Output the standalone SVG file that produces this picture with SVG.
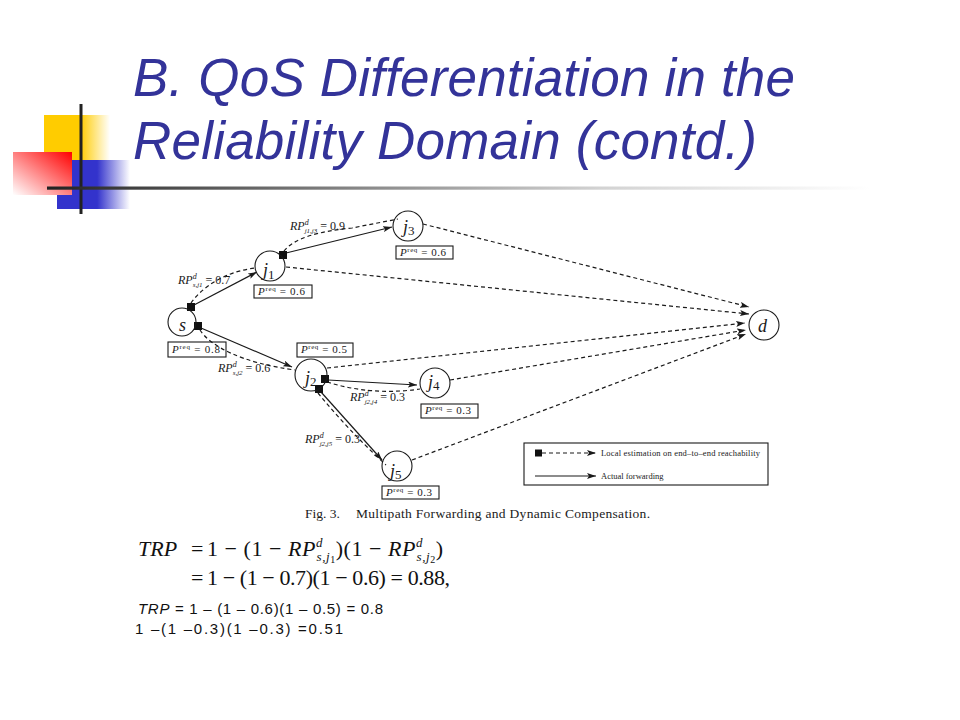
<svg xmlns="http://www.w3.org/2000/svg" width="960" height="720" viewBox="0 0 960 720">
<defs>
<style>
.title{font-family:"Liberation Sans",Arial,sans-serif;font-style:italic;font-size:53px;fill:#333399}
.fig{font-family:"Liberation Serif","Times New Roman",serif;fill:#1a1a1a}
.it{font-style:italic}
.node{fill:none;stroke:#1a1a1a;stroke-width:1.1}
.sq{fill:#111}
.solid{fill:none;stroke:#1a1a1a;stroke-width:1.2}
.dash{fill:none;stroke:#1a1a1a;stroke-width:1.2;stroke-dasharray:4 3}
.box{fill:none;stroke:#1a1a1a;stroke-width:1.1}
.nl{font-family:"Liberation Serif","Times New Roman",serif;font-style:italic;font-size:18px;fill:#1a1a1a}
.preq{font-family:"Liberation Serif","Times New Roman",serif;font-size:11px;fill:#1a1a1a}
.rp{font-family:"Liberation Serif","Times New Roman",serif;font-size:12px;fill:#1a1a1a}
.eq{font-family:"Liberation Serif","Times New Roman",serif;font-size:22px;fill:#111}
.sans{font-family:"Liberation Sans",Arial,sans-serif;font-size:15px;fill:#111}
</style>
<marker id="ah" markerUnits="userSpaceOnUse" markerWidth="10" markerHeight="6" refX="9" refY="3" orient="auto">
<path d="M0,0 L9,3 L0,6 L2,3 z" fill="#1a1a1a"/>
</marker>
<linearGradient id="gY" x1="0" y1="0" x2="1" y2="0">
<stop offset="0" stop-color="#FFCC00"/><stop offset="0.55" stop-color="#FFCC00"/><stop offset="1" stop-color="#FFCC00" stop-opacity="0"/>
</linearGradient>
<linearGradient id="gB" x1="0" y1="0" x2="1" y2="0">
<stop offset="0" stop-color="#3333CC"/><stop offset="0.55" stop-color="#3333CC"/><stop offset="1" stop-color="#3333CC" stop-opacity="0"/>
</linearGradient>
<linearGradient id="gR" x1="1" y1="0" x2="0" y2="1">
<stop offset="0" stop-color="#FF0000"/><stop offset="0.5" stop-color="#FF8080"/><stop offset="1" stop-color="#FFFFFF"/>
</linearGradient>
<linearGradient id="gL" gradientUnits="userSpaceOnUse" x1="47" y1="0" x2="870" y2="0">
<stop offset="0" stop-color="#222"/><stop offset="0.12" stop-color="#444"/><stop offset="0.67" stop-color="#d2d2d2"/><stop offset="1" stop-color="#fff"/>
</linearGradient>
</defs>
<rect width="960" height="720" fill="#fff"/>

<g id="decoration">
<rect x="44" y="115" width="66" height="45" fill="url(#gY)"/>
<rect x="57" y="160" width="73" height="49" fill="url(#gB)"/>
<rect x="13" y="152" width="59" height="43" fill="url(#gR)"/>
<rect x="79.5" y="104" width="3" height="110" fill="#222"/>
<rect x="47" y="186.5" width="823" height="3.2" fill="url(#gL)"/>
</g>

<g id="title">
<text class="title" x="133" y="96" textLength="662" lengthAdjust="spacing">B. QoS Differentiation in the</text>
<text class="title" x="133" y="159" textLength="624" lengthAdjust="spacing">Reliability Domain (contd.)</text>
</g>

<g id="connectors">
<path class="solid" d="M194,305 L257,272" marker-end="url(#ah)"/>
<path class="solid" d="M286,253 L392,227" marker-end="url(#ah)"/>
<path class="solid" d="M201,328 L292,367" marker-end="url(#ah)"/>
<path class="solid" d="M328,380 L417,385" marker-end="url(#ah)"/>
<path class="solid" d="M321,392 L382,460" marker-end="url(#ah)"/>
<path class="dash" d="M191,303 C202,287 226,271 256,268"/>
<path class="dash" d="M284,251 C294,238 320,231 352,228 L398,219"/>
<path class="dash" d="M200,330 C210,346 242,363 295,370"/>
<path class="dash" d="M327,382 Q372,396 420,389"/>
<path class="dash" d="M318,393 Q348,430 386,465"/>
<path class="dash" d="M423,224 L749,307" marker-end="url(#ah)"/>
<path class="dash" d="M286,267 L749,314" marker-end="url(#ah)"/>
<path class="dash" d="M327,368 L745,323" marker-end="url(#ah)"/>
<path class="dash" d="M450,380 L746,330" marker-end="url(#ah)"/>
<path class="dash" d="M412,460 L746,334" marker-end="url(#ah)"/>
<rect class="sq" x="187" y="303" width="8" height="8"/>
<rect class="sq" x="194" y="322" width="8" height="8"/>
<rect class="sq" x="279" y="251" width="8" height="8"/>
<rect class="sq" x="321" y="375" width="8" height="8"/>
<rect class="sq" x="315" y="385" width="8" height="8"/>
</g>

<g id="node-s">
<circle class="node" cx="182" cy="322" r="14"/>
<text class="nl" x="179" y="331">s</text>
<rect class="box" x="168" y="342" width="58" height="15"/>
<text class="preq" x="172" y="353" textLength="48" lengthAdjust="spacing"><tspan class="it">P</tspan><tspan font-size="7" dy="-4">req</tspan><tspan dy="4"> = 0.8</tspan></text>
</g>

<g id="node-j1">
<circle class="node" cx="270" cy="266" r="15"/>
<text class="nl" x="263" y="276">j<tspan font-size="13" font-style="normal" dy="3">1</tspan></text>
<rect class="box" x="254" y="285" width="58" height="13"/>
<text class="preq" x="258" y="295" textLength="47" lengthAdjust="spacing"><tspan class="it">P</tspan><tspan font-size="7" dy="-4">req</tspan><tspan dy="4"> = 0.6</tspan></text>
</g>

<g id="node-j3">
<circle class="node" cx="408" cy="226" r="15"/>
<text class="nl" x="403" y="233">j<tspan font-size="13" font-style="normal" dy="2">3</tspan></text>
<rect class="box" x="396" y="246" width="57" height="13"/>
<text class="preq" x="400" y="256" textLength="46" lengthAdjust="spacing"><tspan class="it">P</tspan><tspan font-size="7" dy="-4">req</tspan><tspan dy="4"> = 0.6</tspan></text>
</g>

<g id="node-j2">
<circle class="node" cx="311" cy="375" r="16"/>
<text class="nl" x="305" y="384">j<tspan font-size="13" font-style="normal" dy="2">2</tspan></text>
<rect class="box" x="297" y="343" width="56" height="14"/>
<text class="preq" x="301" y="353" textLength="46" lengthAdjust="spacing"><tspan class="it">P</tspan><tspan font-size="7" dy="-4">req</tspan><tspan dy="4"> = 0.5</tspan></text>
</g>

<g id="node-j4">
<circle class="node" cx="435" cy="383" r="15"/>
<text class="nl" x="428" y="388">j<tspan font-size="13" font-style="normal" dy="2">4</tspan></text>
<rect class="box" x="421" y="404" width="57" height="14"/>
<text class="preq" x="425" y="414" textLength="46" lengthAdjust="spacing"><tspan class="it">P</tspan><tspan font-size="7" dy="-4">req</tspan><tspan dy="4"> = 0.3</tspan></text>
</g>

<g id="node-j5">
<circle class="node" cx="397" cy="466" r="15"/>
<text class="nl" x="390" y="477">j<tspan font-size="13" font-style="normal" dy="2">5</tspan></text>
<rect class="box" x="382" y="486" width="57" height="13"/>
<text class="preq" x="386" y="496" textLength="46" lengthAdjust="spacing"><tspan class="it">P</tspan><tspan font-size="7" dy="-4">req</tspan><tspan dy="4"> = 0.3</tspan></text>
</g>

<g id="node-d">
<circle class="node" cx="764" cy="325" r="15"/>
<text class="nl" x="758" y="332">d</text>
</g>

<g id="edge-labels">
<text class="rp" x="290" y="230"><tspan class="it">RP</tspan><tspan class="it" font-size="8" dy="-5">d</tspan><tspan class="it" font-size="7" dx="-4" dy="8">j1,j3</tspan><tspan dy="-3"> = 0.9</tspan></text>
<text class="rp" x="178" y="284"><tspan class="it">RP</tspan><tspan class="it" font-size="8" dy="-5">d</tspan><tspan class="it" font-size="7" dx="-4" dy="8">s,j1</tspan><tspan dy="-3"> = 0.7</tspan></text>
<text class="rp" x="218" y="372"><tspan class="it">RP</tspan><tspan class="it" font-size="8" dy="-5">d</tspan><tspan class="it" font-size="7" dx="-4" dy="8">s,j2</tspan><tspan dy="-3"> = 0.6</tspan></text>
<text class="rp" x="350" y="401"><tspan class="it">RP</tspan><tspan class="it" font-size="8" dy="-5">d</tspan><tspan class="it" font-size="7" dx="-4" dy="8">j2,j4</tspan><tspan dy="-3"> = 0.3</tspan></text>
<text class="rp" x="305" y="443"><tspan class="it">RP</tspan><tspan class="it" font-size="8" dy="-5">d</tspan><tspan class="it" font-size="7" dx="-4" dy="8">j2,j5</tspan><tspan dy="-3"> = 0.3</tspan></text>
</g>

<g id="legend">
<rect class="box" x="524" y="443" width="244" height="42"/>
<rect class="sq" x="535" y="449.5" width="7" height="7"/>
<path class="dash" d="M542,453 L596,453" marker-end="url(#ah)"/>
<path class="solid" d="M535,476 L596,476" marker-end="url(#ah)"/>
<text class="fig" x="601" y="456" font-size="8.5" textLength="159" lengthAdjust="spacing">Local estimation on end–to–end reachability</text>
<text class="fig" x="601" y="479" font-size="8.5">Actual forwarding</text>
</g>

<g id="caption">
<text class="fig" x="305" y="518" font-size="13.5">Fig. 3.</text>
<text class="fig" x="356" y="518" font-size="13.5" textLength="294" lengthAdjust="spacing">Multipath Forwarding and Dynamic Compensation.</text>
</g>

<g id="equations">
<text class="eq it" x="138" y="556">TRP</text>
<text class="eq" x="191" y="556">=</text>
<text class="eq" x="207" y="556" textLength="236" lengthAdjust="spacing">1 − (1 − <tspan class="it">RP</tspan><tspan class="it" font-size="13" dy="-9">d</tspan><tspan class="it" font-size="13" dx="-6.5" dy="14">s,j</tspan><tspan font-size="10" dy="2">1</tspan><tspan dy="-7">)(1 − </tspan><tspan class="it">RP</tspan><tspan class="it" font-size="13" dy="-9">d</tspan><tspan class="it" font-size="13" dx="-6.5" dy="14">s,j</tspan><tspan font-size="10" dy="2">2</tspan><tspan dy="-7">)</tspan></text>
<text class="eq" x="191" y="585">=</text>
<text class="eq" x="207" y="585" textLength="243" lengthAdjust="spacing">1 − (1 − 0.7)(1 − 0.6) = 0.88,</text>
<text class="sans" x="138" y="614" textLength="245" lengthAdjust="spacing"><tspan class="it">TRP</tspan> = 1 – (1 – 0.6)(1 – 0.5) = 0.8</text>
<text class="sans" x="135" y="634" textLength="208" lengthAdjust="spacing">1 –(1 –0.3)(1 –0.3) =0.51</text>
</g>
</svg>
